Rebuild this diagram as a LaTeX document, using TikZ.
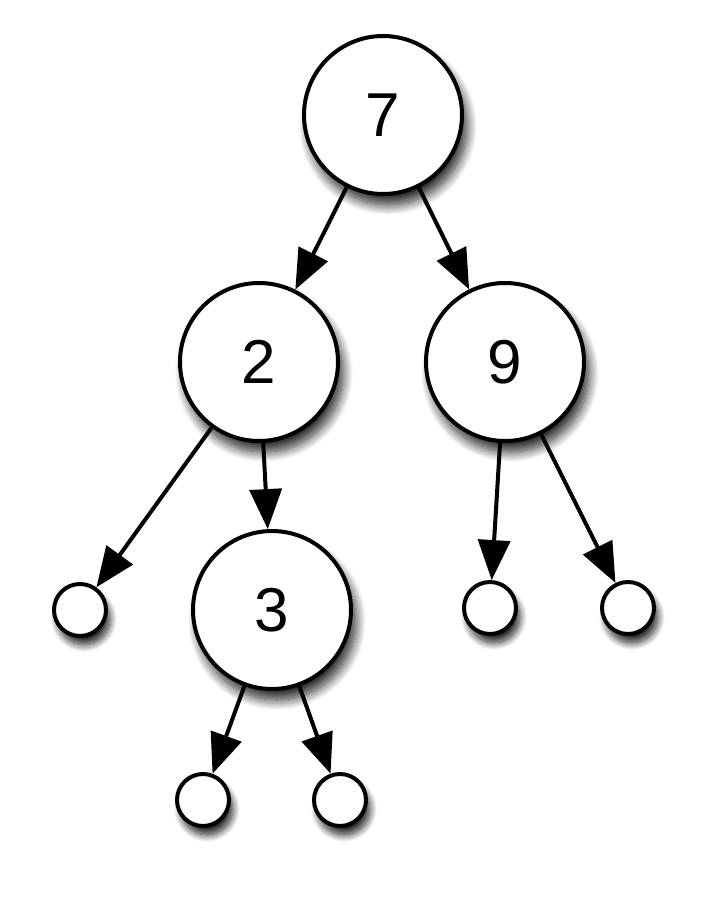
\documentclass[tikz,border=0pt]{standalone}
\usepackage{fontspec}
\setmainfont{Liberation Sans}
\usetikzlibrary{arrows.meta,shadows.blur}
\begin{document}
\begin{tikzpicture}[x=1pt,y=-1pt,
  big/.style={circle,draw,line width=4pt,fill=white,minimum size=158pt,inner sep=0pt,font=\fontsize{62}{64}\selectfont,
    blur shadow={shadow xshift=5pt,shadow yshift=-11pt,shadow blur steps=14,shadow blur radius=10pt,shadow opacity=85}},
  leaf/.style={circle,draw,line width=4pt,fill=white,minimum size=52pt,inner sep=0pt,
    blur shadow={shadow xshift=4pt,shadow yshift=-9pt,shadow blur steps=12,shadow blur radius=7pt,shadow opacity=85}},
  arr/.style={line width=4pt,-{Triangle[length=40pt,width=32pt]}}]
\useasboundingbox (0,0) rectangle (708,900);
\node[big] (n7) at (383,115) {7};
\node[big] (n2) at (259,362) {2};
\node[big] (n9) at (505,362) {9};
\node[big] (n3) at (272,610) {3};
\node[leaf] (l1) at (80,610) {};
\node[leaf] (l2) at (490,608) {};
\node[leaf] (l3) at (628,608) {};
\node[leaf] (l4) at (203,800) {};
\node[leaf] (l5) at (340,800) {};
\draw[arr] (n7) -- (n2);
\draw[arr] (n7) -- (n9);
\draw[arr] (n2) -- (l1);
\draw[arr] (n2) -- (n3);
\draw[arr] (n9) -- (l2);
\draw[arr] (n9) -- (l3);
\draw[arr] (n3) -- (l4);
\draw[arr] (n3) -- (l5);
\end{tikzpicture}
\end{document}
